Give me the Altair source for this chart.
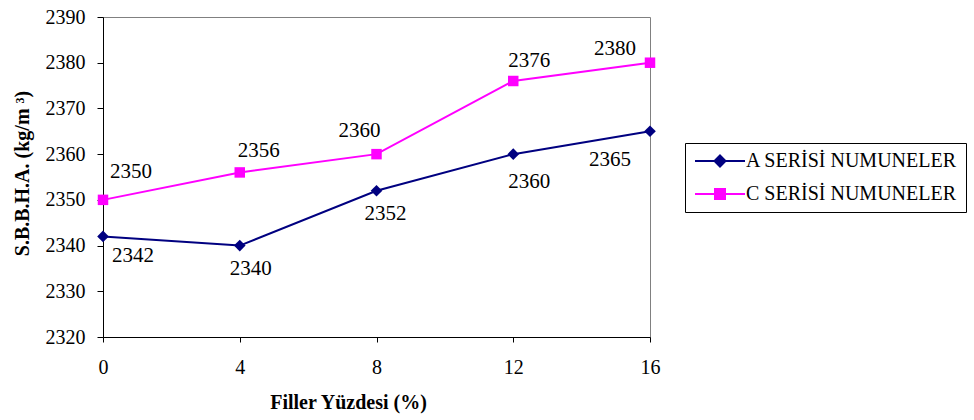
import altair as alt
import pandas as pd

# ---- data ----
filler_pct = [0, 4, 8, 12, 16]
series_names = ["A SERİSİ NUMUNELER", "C SERİSİ NUMUNELER"]
a_values = [2342, 2340, 2352, 2360, 2365]
c_values = [2350, 2356, 2360, 2376, 2380]
y_ticks = [2320, 2330, 2340, 2350, 2360, 2370, 2380, 2390]
series_colors = ["#000080", "#FF00FF"]

# label offsets in pixels (style only)
a_label_offsets = [(30, 20), (11, 23), (9, 23), (16, 28), (-40, 29)]
c_label_offsets = [(28, -28), (19, -21), (-17, -23), (16, -20), (-35, -14)]

rows = []
for name, vals in zip(series_names, [a_values, c_values]):
    for x, v in zip(filler_pct, vals):
        rows.append({"series": name, "filler": x, "value": v})
df = pd.DataFrame(rows)

FONT = "Liberation Serif"

x_enc = alt.X("filler:Q",
              scale=alt.Scale(domain=[0, 16], nice=False, zero=False),
              axis=alt.Axis(values=filler_pct, format="d", grid=False,
                            title="Filler Yüzdesi (%)", labelFlush=False,
                            tickSize=5, labelPadding=15,
                            titleX=245, titleY=71, titleAlign="center",
                            titleBaseline="alphabetic"))
y_enc = alt.Y("value:Q",
              scale=alt.Scale(domain=[2320, 2390], nice=False, zero=False),
              axis=alt.Axis(values=y_ticks, format="d", grid=False,
                            title="S.B.B.H.A. (kg/m ³)", labelFlush=False,
                            tickSize=6, labelPadding=12,
                            titleAngle=270, titleX=-75, titleY=156,
                            titleAlign="center", titleBaseline="alphabetic"))

color_scale = alt.Scale(domain=series_names, range=series_colors)

# legend symbol paths: line segment + marker
path_a = "M-1,0L5.25,0M2.125,-0.6875L2.8125,0L2.125,0.6875L1.4375,0Z"
path_c = "M-1,0L5.25,0M1.5,-0.625L2.75,-0.625L2.75,0.625L1.5,0.625Z"

leg = alt.Legend(title=None, orient="none", legendX=582, legendY=126,
                 direction="vertical",
                 strokeColor="#000000", fillColor="#FFFFFF", padding=8,
                 cornerRadius=0,
                 labelFont=FONT, labelFontSize=20, labelColor="#000000",
                 labelOffset=33, labelLimit=400,
                 symbolSize=256, symbolStrokeWidth=2, symbolOpacity=1,
                 rowPadding=13)

color_enc = alt.Color("series:N", scale=color_scale, legend=leg)

base = alt.Chart(df)

legend_layer = base.mark_point(filled=True, opacity=0).encode(
    x=x_enc, y=y_enc,
    color=color_enc,
    stroke=alt.Stroke("series:N", scale=color_scale, legend=leg),
    shape=alt.Shape("series:N",
                    scale=alt.Scale(domain=series_names, range=[path_a, path_c]),
                    legend=leg),
)

lines = base.mark_line(strokeWidth=2).encode(x=x_enc, y=y_enc, color=color_enc)

pts_a = base.transform_filter(alt.datum.series == series_names[0]).mark_point(
    filled=True, shape="diamond", size=135, opacity=1
).encode(x=x_enc, y=y_enc, color=color_enc)

pts_c = base.transform_filter(alt.datum.series == series_names[1]).mark_point(
    filled=True, shape="square", size=110, opacity=1
).encode(x=x_enc, y=y_enc, color=color_enc)

label_layers = []
for name, offs in zip(series_names, [a_label_offsets, c_label_offsets]):
    for x, (dx, dy) in zip(filler_pct, offs):
        label_layers.append(
            base.transform_filter(
                (alt.datum.series == name) & (alt.datum.filler == x)
            ).mark_text(font=FONT, fontSize=21, color="#000000",
                        align="center", baseline="middle", dx=dx, dy=dy)
            .encode(x=x_enc, y=y_enc, text=alt.Text("value:Q", format="d"))
        )

chart = alt.layer(legend_layer, lines, pts_a, pts_c, *label_layers).properties(
    width=547, height=320,
    autosize=alt.AutoSizeParams(type="none"),
    padding={"left": 103, "top": 17, "right": 324, "bottom": 83},
    background="#FFFFFF",
).configure_view(
    stroke="#808080", strokeWidth=1
).configure_axis(
    domainColor="#000000", domainWidth=1, tickColor="#000000", tickWidth=1,
    labelFont=FONT, labelFontSize=20, labelColor="#000000",
    titleFont=FONT, titleFontSize=20, titleFontWeight="bold", titleColor="#000000",
)

chart.save("out.html", embed_options={"renderer": "svg", "actions": False})
